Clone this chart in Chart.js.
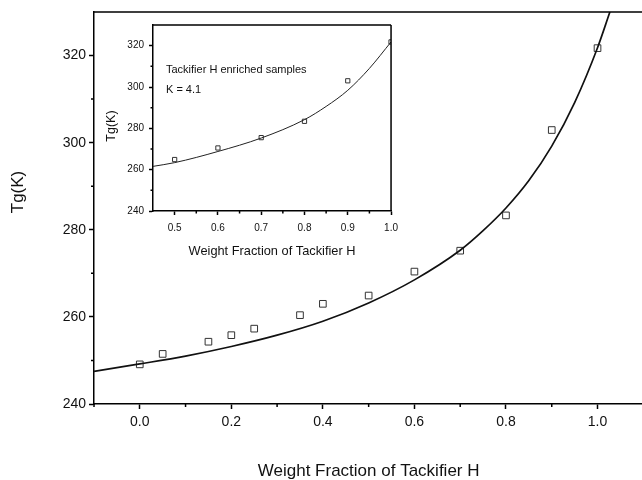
<!DOCTYPE html>
<html>
<head>
<meta charset="utf-8">
<script src="https://cdn.jsdelivr.net/npm/chart.js@4.4.1/dist/chart.umd.min.js"></script>
<style>
  html, body { margin: 0; padding: 0; background: #fff; overflow: hidden; }
  #wrap { position: relative; width: 642px; height: 480px; overflow: hidden; }
  #mainChart { position: absolute; left: 0; top: 0; }
  #insetChart { position: absolute; left: 100px; top: 14px; background: #fff; }
</style>
</head>
<body>
<div id="wrap">
  <canvas id="mainChart" width="649" height="480"></canvas>
  <canvas id="insetChart" width="305" height="250"></canvas>
</div>
<script>
// measured Tg values (open squares)
const weightFraction = [0.0, 0.05, 0.15, 0.2, 0.25, 0.35, 0.4, 0.5, 0.6, 0.7, 0.8, 0.9, 1.0];
const tgMeasured = [249.1, 251.5, 254.3, 255.8, 257.3, 260.4, 263.0, 264.9, 270.4, 275.2, 283.3, 302.9, 321.7];

// fitted curve
const fitX = [-0.1, 0.0, 0.1, 0.2, 0.3, 0.4, 0.5, 0.6, 0.7, 0.75, 0.8, 0.85, 0.9, 0.95, 1.0, 1.027];
const fitY = [247.5, 249.2, 251.0, 253.2, 255.8, 259.0, 263.2, 268.5, 275.3, 279.8, 285.0, 291.3, 299.2, 309.2, 321.8, 330];

// inset: Tackifier H enriched samples
const insetWeight = [0.5, 0.6, 0.7, 0.8, 0.9, 1.0];
const insetTg = [264.9, 270.5, 275.5, 283.4, 303.0, 321.8];
const insetFitX = [0.45, 0.5, 0.6, 0.7, 0.8, 0.85, 0.9, 0.95, 1.0];
const insetFitY = [261.6, 263.4, 268.8, 275.3, 284.2, 290.6, 298.4, 309.0, 321.8];

// tick labels
const mainXTicks = [0.0, 0.2, 0.4, 0.6, 0.8, 1.0];
const mainXMinor = [-0.1, 0.1, 0.3, 0.5, 0.7, 0.9];
const mainYTicks = [240, 260, 280, 300, 320];
const mainYMinor = [250, 270, 290, 310];
const insetXTicks = [0.5, 0.6, 0.7, 0.8, 0.9, 1.0];
const insetXMinor = [0.55, 0.65, 0.75, 0.85, 0.95];
const insetYTicks = [240, 260, 280, 300, 320];
const insetYMinor = [250, 270, 290, 310];

const FONT = '"Liberation Sans", Arial, sans-serif';

// draws short minor ticks, frame lines and the free texts
const framePlugin = {
  id: 'frame',
  afterDraw(chart, args, opts) {
    const ctx = chart.ctx;
    const a = chart.chartArea;
    const xs = chart.scales.x, ys = chart.scales.y;
    ctx.save();
    ctx.strokeStyle = '#000';
    ctx.lineWidth = opts.lineWidth;
    ctx.beginPath();
    opts.minorX.forEach(v => {
      const px = xs.getPixelForValue(v);
      ctx.moveTo(px, a.bottom);
      ctx.lineTo(px, a.bottom + opts.minorLen);
    });
    opts.minorY.forEach(v => {
      const py = ys.getPixelForValue(v);
      ctx.moveTo(a.left, py);
      ctx.lineTo(a.left - opts.minorLen, py);
    });
    ctx.moveTo(a.left, a.top);
    ctx.lineTo(opts.topToEdge ? chart.width : a.right, a.top);
    if (opts.box) {
      ctx.moveTo(a.right, a.top);
      ctx.lineTo(a.right, a.bottom);
    }
    ctx.stroke();
    ctx.fillStyle = '#111';
    if (opts.notes) {
      ctx.font = '11px ' + FONT;
      ctx.textBaseline = 'middle';
      opts.notes.forEach(n => {
        ctx.fillText(n.text, xs.getPixelForValue(n.x), ys.getPixelForValue(n.y));
      });
    }
    if (opts.yTitle) {
      ctx.translate(opts.yTitle.x, (a.top + a.bottom) / 2 + opts.yTitle.dy);
      ctx.rotate(-Math.PI / 2);
      ctx.font = opts.yTitle.size + 'px ' + FONT;
      ctx.textAlign = 'center';
      ctx.textBaseline = 'middle';
      ctx.fillText(opts.yTitle.text, 0, 0);
    }
    ctx.restore();
  }
};

function axis(min, max, ticks, cfg) {
  return {
    type: 'linear',
    min: min,
    max: max,
    afterBuildTicks: s => { s.ticks = ticks.map(v => ({ value: v })); },
    afterFit: cfg.fit,
    border: { display: true, color: '#000', width: cfg.lw },
    grid: { drawOnChartArea: false, drawTicks: true, tickLength: cfg.tickLen, tickColor: '#000', tickWidth: cfg.lw },
    ticks: {
      color: '#111',
      padding: cfg.pad,
      font: { family: FONT, size: cfg.size },
      callback: v => cfg.fmt(v)
    },
    title: {
      display: !!cfg.title,
      text: cfg.title || '',
      color: '#111',
      font: { family: FONT, size: cfg.titleSize },
      padding: cfg.titlePad
    }
  };
}

new Chart(document.getElementById('mainChart'), {
  type: 'scatter',
  data: {
    datasets: [
      {
        label: 'fit',
        data: fitX.map((x, i) => ({ x: x, y: fitY[i] })),
        showLine: true,
        borderColor: '#111',
        borderWidth: 1.7,
        pointRadius: 0,
        cubicInterpolationMode: 'monotone'
      },
      {
        label: 'Tg',
        data: weightFraction.map((x, i) => ({ x: x, y: tgMeasured[i] })),
        pointStyle: 'rect',
        pointRadius: 4.7,
        backgroundColor: 'rgba(0,0,0,0)',
        borderColor: '#333',
        borderWidth: 1
      }
    ]
  },
  options: {
    responsive: false,
    animation: false,
    layout: { padding: { top: 12, right: 0, left: 0, bottom: 0 } },
    plugins: {
      legend: { display: false },
      tooltip: { enabled: false },
      frame: {
        lineWidth: 1.5, minorLen: 3, minorX: mainXMinor, minorY: mainYMinor, topToEdge: true, box: false,
        yTitle: { text: 'Tg(K)', x: 18, dy: -16, size: 17 }
      }
    },
    scales: {
      x: axis(-0.1, 1.1, mainXTicks, {
        lw: 1.5, tickLen: 5, pad: 5, size: 14, titleSize: 17,
        fmt: v => v.toFixed(1), title: 'Weight Fraction of Tackifier H',
        titlePad: { top: 0, bottom: -2 },
        fit: s => { s.height = 76; }
      }),
      y: axis(240, 330, mainYTicks, {
        lw: 1.5, tickLen: 5, pad: 3, size: 14,
        fmt: v => String(v), title: '',
        fit: s => { s.width = 94; }
      })
    }
  },
  plugins: [framePlugin]
});

new Chart(document.getElementById('insetChart'), {
  type: 'scatter',
  data: {
    datasets: [
      {
        label: 'fit',
        data: insetFitX.map((x, i) => ({ x: x, y: insetFitY[i] })),
        showLine: true,
        borderColor: '#222',
        borderWidth: 1,
        pointRadius: 0,
        cubicInterpolationMode: 'monotone'
      },
      {
        label: 'Tg',
        data: insetWeight.map((x, i) => ({ x: x, y: insetTg[i] })),
        pointStyle: 'rect',
        pointRadius: 3,
        backgroundColor: 'rgba(0,0,0,0)',
        borderColor: '#333',
        borderWidth: 1
      }
    ]
  },
  options: {
    responsive: false,
    animation: false,
    layout: { padding: { top: 7.5, right: 5, left: 0, bottom: 0 } },
    plugins: {
      legend: { display: false },
      tooltip: { enabled: false },
      frame: {
        lineWidth: 1.5, minorLen: 2.5, minorX: insetXMinor, minorY: insetYMinor, topToEdge: false, box: true,
        notes: [
          { text: 'Tackifier H enriched samples', x: 0.48, y: 308.4 },
          { text: 'K = 4.1', x: 0.48, y: 298.8 }
        ],
        yTitle: { text: 'Tg(K)', x: 12, dy: 8, size: 12.5 }
      }
    },
    scales: {
      x: axis(0.45, 1.0, insetXTicks, {
        lw: 1.5, tickLen: 4, pad: 7, size: 10, titleSize: 12.8,
        fmt: v => v.toFixed(1), title: 'Weight Fraction of Tackifier H',
        titlePad: { top: 0, bottom: 5 },
        fit: s => { s.height = 53; }
      }),
      y: axis(240, 330, insetYTicks, {
        lw: 1.5, tickLen: 4, pad: 5, size: 10,
        fmt: v => String(v), title: '',
        fit: s => { s.width = 53; }
      })
    }
  },
  plugins: [framePlugin]
});
</script>
</body>
</html>
